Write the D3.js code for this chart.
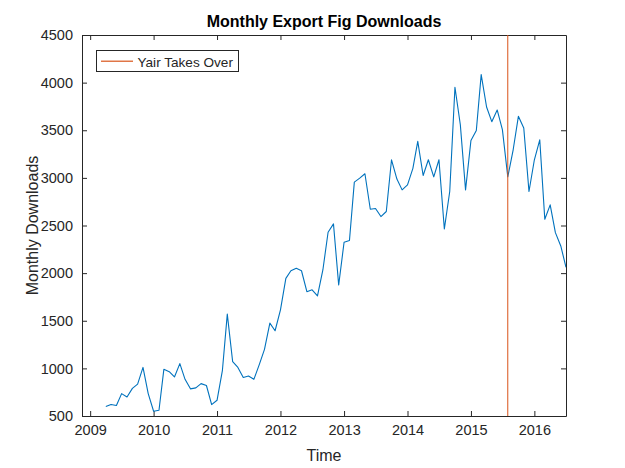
<!DOCTYPE html>
<html>
<head>
<meta charset="utf-8">
<script src="https://cdn.jsdelivr.net/npm/d3@7"></script>
<style>
  html, body { margin: 0; padding: 0; background: #fff; }
  svg { display: block; }
  text { font-family: "Liberation Sans", Arial, Helvetica, sans-serif; fill: #262626; }
</style>
</head>
<body>
<svg id="chart" width="625" height="468"></svg>
<script>
// ---- data ----
const startYear = 2009, startMonth = 3; // April 2009 (0-based month)
const downloads = [
  // 2009 Apr-Dec
  600, 620, 610, 735, 700, 790, 835, 1010, 735,
  // 2010
  550, 560, 990, 965, 910, 1050, 885, 785, 795, 840, 820, 620,
  // 2011
  665, 980, 1570, 1070, 1010, 905, 920, 885, 1040, 1200, 1475, 1395,
  // 2012
  1615, 1945, 2025, 2050, 2025, 1805, 1825, 1762, 2033, 2429, 2517, 1875,
  // 2013
  2324, 2342, 2955, 2997, 3043, 2671, 2678, 2594, 2647, 3190, 2987, 2874,
  // 2014
  2927, 3100, 3383, 3025, 3190, 3011, 3190, 2464, 2857, 3951, 3558, 2874,
  // 2015
  3393, 3498, 4084, 3744, 3590, 3713, 3506, 3011, 3295, 3646, 3523, 2857,
  // 2016 Jan-Jul
  3190, 3400, 2566, 2717, 2425, 2285, 2061
];
const takeoverDate = [2015, 7]; // Aug 2015
const legendLabel = "Yair Takes Over";
const yTicks = [500, 1000, 1500, 2000, 2500, 3000, 3500, 4000, 4500];
const xTickYears = [2009, 2010, 2011, 2012, 2013, 2014, 2015, 2016];
const titleText = "Monthly Export Fig Downloads";
const xLabel = "Time";
const yLabel = "Monthly Downloads";

const data = downloads.map((v, i) => ({
  date: new Date(Date.UTC(startYear, startMonth + i, 1)),
  value: v
}));

// ---- layout ----
const svg = d3.select("#chart");
const L = 82, R = 566, T = 35, B = 416;
const ink = "#262626";
const orange = "#D95319";

const x = d3.scaleUtc()
  .domain([new Date(Date.UTC(2008, 10, 15)), data[data.length - 1].date])
  .range([L, R]);
const y = d3.scaleLinear().domain([500, 4500]).range([B, T]);

const tickLen = 5;
const xTickVals = xTickYears.map(yr => new Date(Date.UTC(yr, 0, 1)));

// bottom axis
const gx = svg.append("g").attr("transform", `translate(0,${B})`)
  .call(d3.axisBottom(x).tickValues(xTickVals).tickFormat(d3.utcFormat("%Y"))
    .tickSizeInner(-tickLen).tickSizeOuter(0).tickPadding(9));
// top axis
const gxt = svg.append("g").attr("transform", `translate(0,${T})`)
  .call(d3.axisTop(x).tickValues(xTickVals).tickFormat("")
    .tickSizeInner(-tickLen).tickSizeOuter(0));
// left axis
const gy = svg.append("g").attr("transform", `translate(${L},0)`)
  .call(d3.axisLeft(y).tickValues(yTicks).tickFormat(d3.format("d"))
    .tickSizeInner(-tickLen).tickSizeOuter(0).tickPadding(9));
// right axis
const gyr = svg.append("g").attr("transform", `translate(${R},0)`)
  .call(d3.axisRight(y).tickValues(yTicks).tickFormat("")
    .tickSizeInner(-tickLen).tickSizeOuter(0));

[gx, gxt, gy, gyr].forEach(g => {
  g.selectAll("path.domain").attr("stroke", ink).attr("stroke-width", 1);
  g.selectAll(".tick line").attr("stroke", ink).attr("stroke-width", 1);
  g.selectAll(".tick text").attr("fill", ink)
    .style("font-family", '"Liberation Sans", Arial, sans-serif')
    .style("font-size", "14.5px");
});

// clip
svg.append("clipPath").attr("id", "clip")
  .append("rect").attr("x", L).attr("y", T).attr("width", R - L).attr("height", B - T);

// data line
const line = d3.line().x(d => x(d.date)).y(d => y(d.value));
svg.append("path").datum(data)
  .attr("clip-path", "url(#clip)")
  .attr("fill", "none").attr("stroke", "#0072BD").attr("stroke-width", 1.1)
  .attr("stroke-linejoin", "round")
  .attr("d", line);

// takeover line
const tx = x(new Date(Date.UTC(takeoverDate[0], takeoverDate[1], 1)));
svg.append("line")
  .attr("x1", tx).attr("x2", tx).attr("y1", T).attr("y2", B)
  .style("stroke", orange).attr("stroke-width", 1);

// legend
const lg = svg.append("g");
lg.append("rect").attr("x", 96.5).attr("y", 50.5).attr("width", 142).attr("height", 21)
  .attr("fill", "#fff").attr("stroke", ink).attr("stroke-width", 1);
lg.append("line").attr("x1", 101).attr("x2", 133).attr("y1", 61.2).attr("y2", 61.2)
  .style("stroke", orange).attr("stroke-width", 1.2);
lg.append("text").attr("x", 137.5).attr("y", 66.5).style("font-size", "13.6px").text(legendLabel);

// title & labels
svg.append("text").attr("x", 324).attr("y", 27).attr("text-anchor", "middle")
  .style("font-size", "16px").style("font-weight", "bold").style("fill", "#000").text(titleText);
svg.append("text").attr("x", 324).attr("y", 461).attr("text-anchor", "middle")
  .style("font-size", "16px").text(xLabel);
svg.append("text").attr("transform", `translate(38,${(T + B) / 2}) rotate(-90)`)
  .attr("text-anchor", "middle").style("font-size", "16px").text(yLabel);
</script>
</body>
</html>
